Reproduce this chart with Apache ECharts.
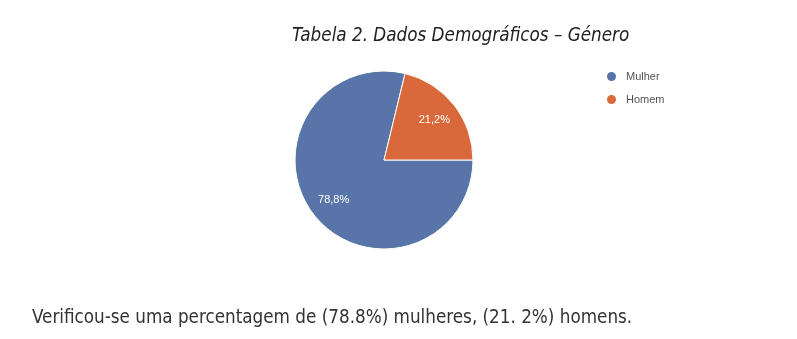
<!DOCTYPE html>
<html><head><meta charset="utf-8">
<script src="https://cdn.jsdelivr.net/npm/echarts@6/dist/echarts.min.js"></script>
<style>html,body{margin:0;padding:0;background:#fff}#c{width:797px;height:339px}</style>
</head><body><div id="c"></div>
<script>
const categories = ['Mulher', 'Homem'];
const values = [78.8, 21.2];
const labels = ['78,8%', '21,2%'];
const titleText = 'Tabela 2. Dados Demográficos – Género';
const captionText = 'Verificou-se uma percentagem de (78.8%) mulheres, (21. 2%) homens.';
const colors = ['#5874a8', '#d9693a'];

const data = categories.map((n, i) => ({ name: n, value: values[i] }));
const narrow = '"DejaVu Sans Condensed", "Liberation Sans Narrow", sans-serif';
const chart = echarts.init(document.getElementById('c'));
chart.setOption({
  animation: false,
  color: colors,
  title: [
    { text: titleText, left: 287, top: 22,
      textStyle: { fontFamily: narrow, fontStyle: 'italic', fontWeight: 'normal', fontSize: 18.7, color: '#222' } },
    { text: captionText, left: 27, top: 304,
      textStyle: { fontFamily: narrow, fontWeight: 'normal', fontSize: 18.7, color: '#333' } }
  ],
  legend: {
    data: categories, orient: 'vertical', left: 600, top: 65, icon: 'circle',
    itemWidth: 19, itemHeight: 11, itemGap: 10,
    textStyle: { fontFamily: 'Liberation Sans', fontSize: 11, color: '#555' }
  },
  series: [
    { type: 'pie', center: [384, 160], radius: 89, startAngle: 0, clockwise: true,
      itemStyle: { borderColor: '#fff', borderWidth: 1 },
      label: { show: false }, labelLine: { show: false }, emphasis: { disabled: true },
      data: data },
    { type: 'pie', center: [384, 160], radius: [33, 89], startAngle: 0, clockwise: true, silent: true,
      itemStyle: { color: 'rgba(0,0,0,0)' },
      label: { show: true, position: 'inside', formatter: p => labels[p.dataIndex],
        fontFamily: 'Liberation Sans', fontSize: 11, color: '#fff' },
      labelLine: { show: false }, emphasis: { disabled: true },
      data: data }
  ]
});
</script></body></html>
